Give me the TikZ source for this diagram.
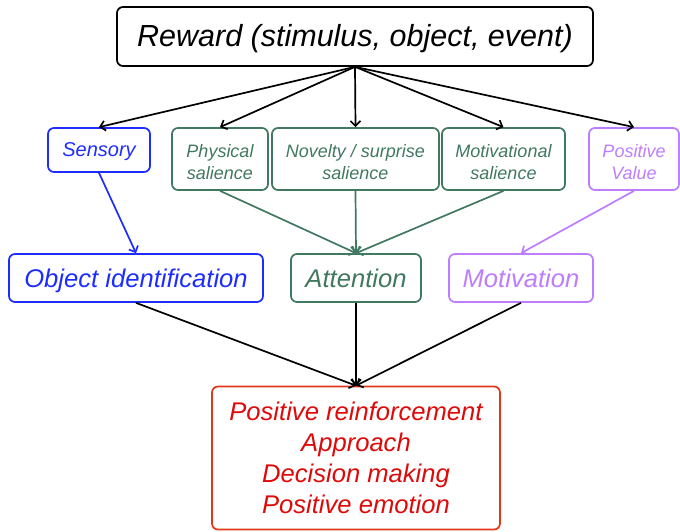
\documentclass[tikz,border=0pt]{standalone}
\usepackage{fontspec}
\setmainfont{Liberation Sans}
\usetikzlibrary{arrows.meta}

\definecolor{sensblue}{RGB}{30,45,255}
\definecolor{salgreen}{RGB}{64,120,96}
\definecolor{valviolet}{RGB}{190,125,255}
\definecolor{outred}{RGB}{222,10,10}
\definecolor{outborder}{RGB}{226,55,25}

\begin{document}
\begin{tikzpicture}[x=1pt, y=-1pt, >={Straight Barb[length=5pt,width=10pt]},
    box/.style={draw, rounded corners=6pt, line width=1.7pt, align=center, inner sep=0pt},
    small/.style={font=\fontsize{18}{22}\selectfont\itshape, text height=40pt, text depth=0pt},
    mid/.style={font=\fontsize{25.6}{31}\selectfont\itshape, text depth=0pt},
    link/.style={->, line width=1.7pt}]

    \useasboundingbox (0,0) rectangle (680,532);

    \node[box, minimum width=476pt, minimum height=59pt, font=\fontsize{30.5}{36}\selectfont\itshape, text depth=3pt]
        (reward) at (355,36.5) {Reward (stimulus, object, event)};

    \node[box, sensblue, minimum width=102pt, minimum height=44pt, font=\fontsize{20}{24}\selectfont\itshape, text depth=0pt]
        (sensory) at (99,150) {Sensory};
    \node[box, small, salgreen, minimum width=96pt, minimum height=62pt] (physical) at (220,159) {Physical\\salience};
    \node[box, small, salgreen, minimum width=167pt, minimum height=62pt] (novelty) at (355.5,159) {Novelty / surprise\\salience};
    \node[box, small, salgreen, minimum width=123pt, minimum height=62pt] (motivational) at (503.5,159) {Motivational\\salience};
    \node[box, small, valviolet, minimum width=90pt, minimum height=62pt] (value) at (634,159) {Positive\\Value};

    \node[box, mid, sensblue, minimum width=254pt, minimum height=48pt] (objid) at (136,278) {Object identification};
    \node[box, mid, salgreen, minimum width=130pt, minimum height=48pt] (attention) at (356,278) {Attention};
    \node[box, mid, valviolet, minimum width=144pt, minimum height=48pt] (motivation) at (521,278) {Motivation};

    \node[box, mid, outborder, text=outred, minimum width=288pt, minimum height=143pt] (outcome) at (356,458)
        {Positive reinforcement\\Approach\\Decision making\\Positive emotion};

    % reward to the five properties
    \foreach \n in {sensory, physical, novelty, motivational, value}
        \draw[link] (reward.south) -- (\n.north);

    % properties to functions
    \draw[link, sensblue] (sensory.south) -- (objid.north);
    \foreach \n in {physical, novelty, motivational}
        \draw[link, salgreen] (\n.south) -- (attention.north);
    \draw[link, valviolet] (value.south) -- (motivation.north);

    % functions to outcome
    \foreach \n in {objid, attention, motivation}
        \draw[link] (\n.south) -- (outcome.north);

\end{tikzpicture}
\end{document}
